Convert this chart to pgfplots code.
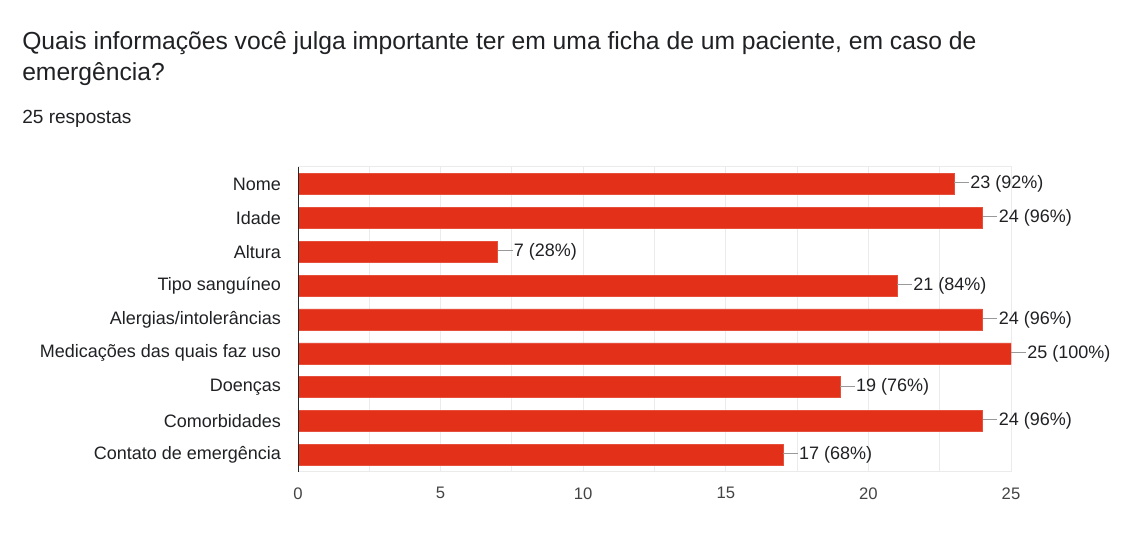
\documentclass[border=0pt]{standalone}
\usepackage{pgfplots}
\pgfplotsset{compat=1.18}
\usepackage{fontspec}
\setmainfont{Liberation Sans}
\definecolor{barred}{RGB}{226,48,25}
\definecolor{titlegray}{RGB}{32,33,36}
\definecolor{ticklbl}{RGB}{68,68,68}
\definecolor{gridc}{RGB}{235,235,235}
\begin{document}
\begin{tikzpicture}[x=0.75pt,y=0.75pt]
% canvas 1131 x 555 px
\path[fill=white] (0,0) rectangle (1131,555);
\node[anchor=base west,inner sep=0,text=titlegray,font=\fontsize{18.5}{22}\selectfont] at (22,505)
  {Quais informações você julga importante ter em uma ficha de um paciente, em caso de};
\node[anchor=base west,inner sep=0,text=titlegray,font=\fontsize{18.5}{22}\selectfont] at (22,474)
  {emergência?};
\node[anchor=base west,inner sep=0,text=titlegray,font=\fontsize{14.3}{16}\selectfont] at (22,431)
  {25 respostas};
\begin{axis}[
  at={(223.5pt,62.25pt)}, anchor=south west,
  scale only axis,
  width=534.75pt, height=228.75pt,
  xbar, bar width=0.62,
  xmin=0, xmax=25,
  ymin=-0.5, ymax=8.5,
  y dir=reverse,
  xtick={0,5,10,15,20,25},
  minor x tick num=1,
  ytick={0,...,8},
  yticklabels={Nome,Idade,Altura,Tipo sanguíneo,Alergias/intolerâncias,Medicações das quais faz uso,Doenças,Comorbidades,Contato de emergência},
  tick style={draw=none},
  xmajorgrids, xminorgrids,
  major grid style={gridc,line width=0.75pt},
  minor grid style={gridc,line width=0.75pt},
  axis line style={gridc,line width=0.75pt},
  /pgf/number format/assume math mode=true,
  xticklabel style={font=\fontsize{12.5}{14}\selectfont,text=ticklbl,yshift=-8pt},
  yticklabel style={font=\fontsize{13.5}{16}\selectfont,text=titlegray,xshift=-5pt},
  point meta=explicit symbolic,
  nodes near coords={{\color{black!40}\rule[0.3em]{11pt}{0.75pt}}\hspace{1pt}\pgfplotspointmeta},
  every node near coord/.append style={anchor=west,inner sep=0pt,xshift=0pt,
    font=\fontsize{13.5}{16}\selectfont,text=titlegray},
]
\addplot[fill=barred,draw=barred!85!white,line width=0.5pt] coordinates {
  (23,0) [23 (92\%)]
  (24,1) [24 (96\%)]
  (7,2) [7 (28\%)]
  (21,3) [21 (84\%)]
  (24,4) [24 (96\%)]
  (25,5) [25 (100\%)]
  (19,6) [19 (76\%)]
  (24,7) [24 (96\%)]
  (17,8) [17 (68\%)]
};
\draw[black!85,line width=0.75pt] (rel axis cs:0,0) -- (rel axis cs:0,1);
\end{axis}
\end{tikzpicture}
\end{document}
